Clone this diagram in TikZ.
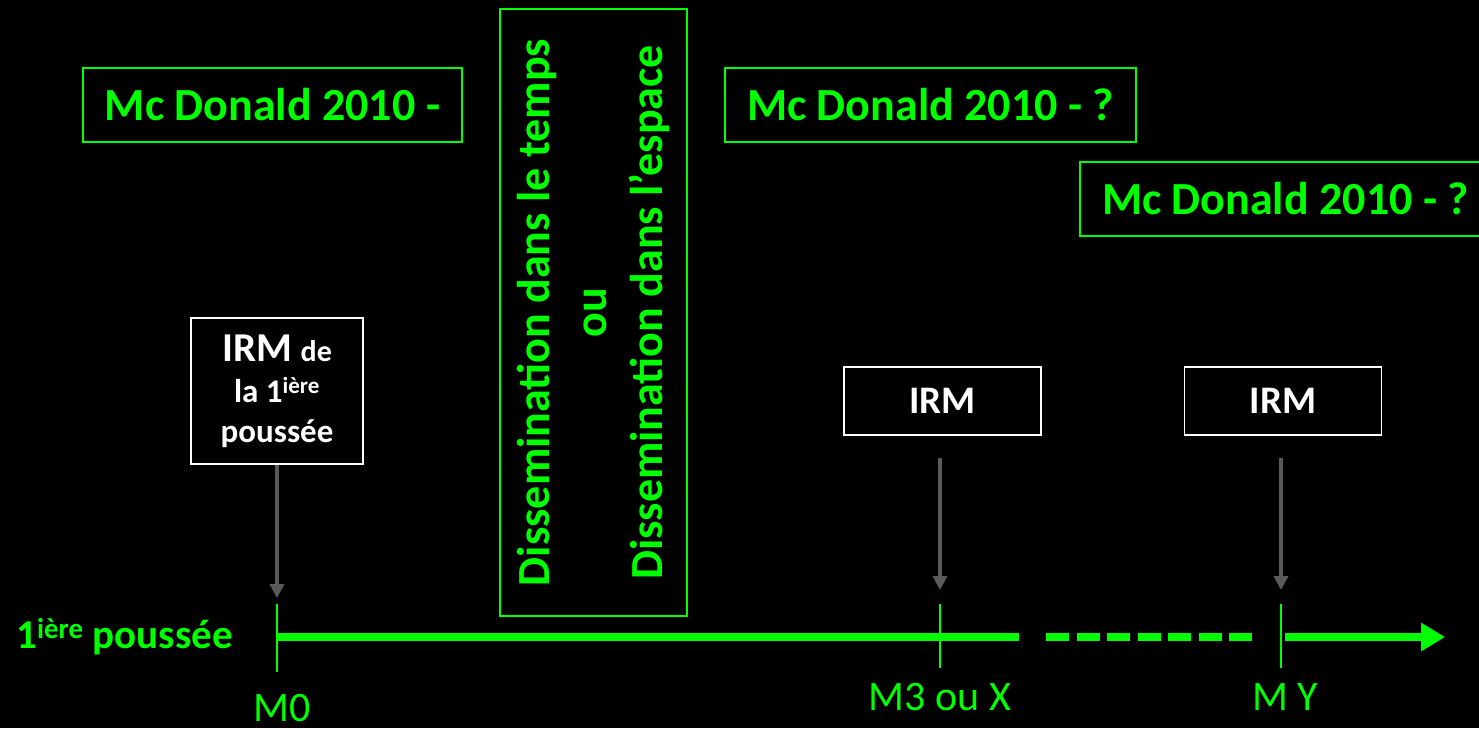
\documentclass[tikz,border=0pt]{standalone}
\usepackage{fontspec}
\setmainfont{Carlito}
\usetikzlibrary{arrows.meta,positioning}
\definecolor{Neon}{HTML}{00FF00}
\definecolor{Steel}{HTML}{5A5A5A}
\tikzset{
  refbox/.style={draw=Neon,line width=1.8pt,text=Neon,inner sep=0pt,minimum height=74pt,font=\bfseries\fontsize{46}{56.5}\selectfont},
  mribox/.style={draw=white,line width=1.8pt,text=white,inner sep=0pt,align=center,font=\bfseries\fontsize{39}{44}\selectfont},
  pointer/.style={-{Triangle[length=14pt,width=14pt]},line width=3.5pt,draw=Steel},
  axis/.style={line width=8.5pt,draw=Neon},
  tickmark/.style={line width=2pt,draw=Neon},
  stamp/.style={text=Neon,inner sep=0pt,font=\fontsize{42}{48}\selectfont}
}
\newcommand{\smallbold}{\fontsize{33}{40}\selectfont}
\begin{document}
\begin{tikzpicture}[x=1pt,y=-1pt]
\useasboundingbox (0,0) rectangle (1479,728);
\fill[black] (0,0) rectangle (1479,728);

% references
\node[refbox,minimum width=379pt] (mcd1) at (272.5,105) {Mc Donald 2010 -};
\node[refbox,minimum width=411pt] (mcd2) at (930.5,105) {Mc Donald 2010 - ?};
\node[refbox,minimum width=411pt,anchor=west] (mcd3) at (1079,199) {Mc Donald 2010 - ?};
\node[refbox,rotate=90,align=center,minimum width=607pt,minimum height=187pt] (diss) at (593.5,312.5)
  {Dissemination dans le temps\\ou\\Dissemination dans l’espace};

% MRI boxes
\node[mribox,minimum width=172pt,minimum height=146pt] (mri0) at (277,391)
  {{\fontsize{41}{40}\selectfont IRM} {\fontsize{30}{40}\selectfont de}\\[-3pt]{\smallbold la 1\textsuperscript{ière}}\\[-4pt]{\smallbold poussée}};
\node[mribox,minimum width=197pt,minimum height=68pt] (mri1) at (942.5,401) {IRM};
\node[mribox,minimum width=197pt,minimum height=68pt] (mri2) at (1283,401) {IRM};

% time axis
\coordinate (m0) at (277,637);
\coordinate (m3) at (940,637);
\coordinate (my) at (1281,637);
\coordinate (cut1) at (1019,637);
\coordinate (dash1) at (1046,637);
\coordinate (dash2) at (1252,637);
\coordinate (cut2) at (1285,637);
\coordinate (tip) at (1445,637);
\draw[axis] (m0) -- (cut1);
\draw[axis,dash pattern=on 23pt off 7.5pt] (dash1) -- (dash2);
\draw[axis,-{Triangle[length=24pt,width=27pt]}] (cut2) -- (tip);
\draw[tickmark] (m0) ++(0,-33) -- ++(0,68);
\draw[tickmark] (m3) ++(0,-33) -- ++(0,64);
\draw[tickmark] (my) ++(0,-33) -- ++(0,64);

\coordinate (hit0) at (277,598);
\coordinate (hit1) at (940,590);
\coordinate (hit2) at (1281,590);
\draw[pointer] (mri0.south) -- (hit0);
\draw[pointer] (mri1.south -| hit1) ++(0,22) -- (hit1);
\draw[pointer] (mri2.south -| hit2) ++(0,22) -- (hit2);

\node[stamp,font=\bfseries\fontsize{41}{48}\selectfont,anchor=base east] (start) at (233,648) {1\textsuperscript{ière} poussée};
\node[stamp,anchor=base] (lab0) at (282,721) {M0};
\node[stamp,anchor=base] (lab3) at (940,710) {M3 ou X};
\node[stamp,anchor=base] (laby) at (1285,710) {M Y};
\end{tikzpicture}
\end{document}
